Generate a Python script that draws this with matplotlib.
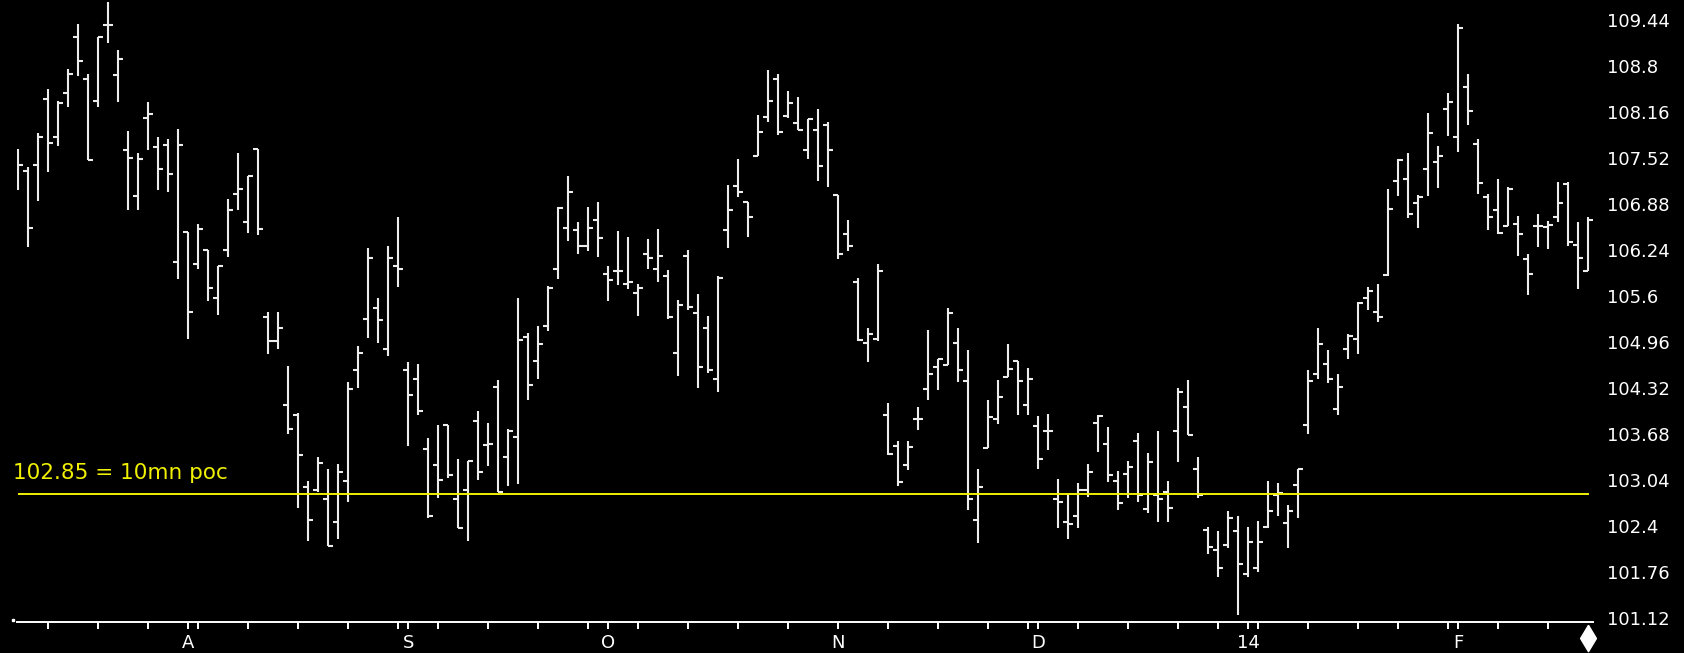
import matplotlib
matplotlib.use('Agg')
import matplotlib.pyplot as plt
import matplotlib.transforms as mtransforms
import numpy as np

# daily OHLC bars (Jul 2013 - Feb 2014)
opens = [
    107.43, 107.33, 107.42, 108.33, 107.81, 108.42, 109.20, 108.61, 108.31, 109.36,
    108.67, 107.63, 106.99, 108.07, 107.67, 107.69, 106.07, 106.49, 106.04, 106.24,
    105.57, 106.24, 107.02, 106.63, 107.64, 105.31, 104.97, 104.09, 103.95, 102.94,
    102.91, 102.78, 102.46, 103.03, 104.57, 105.28, 105.43, 104.87, 106.01, 104.57,
    104.45, 103.47, 103.25, 103.81, 102.78, 102.91, 103.86, 103.53, 104.34, 103.36,
    103.64, 105.03, 104.70, 105.18, 105.98, 106.54, 106.52, 106.29, 106.66, 105.90,
    105.95, 105.76, 105.64, 106.18, 105.98, 105.88, 104.81, 106.15, 105.37, 105.15,
    104.45, 106.52, 107.13, 106.91, 107.54, 108.09, 108.61, 108.10, 108.00, 107.63,
    107.91, 107.97, 107.00, 106.46, 105.79, 104.95, 105.00, 103.95, 103.52, 103.25,
    103.89, 104.31, 104.61, 104.64, 104.95, 104.42, 102.49, 103.49, 103.89, 104.47,
    104.70, 104.09, 103.80, 103.72, 102.78, 102.46, 102.54, 102.91, 103.83, 103.55,
    103.03, 103.13, 103.59, 102.64, 102.83, 102.87, 103.72, 104.06, 103.19, 102.35,
    102.07, 102.14, 102.33, 101.74, 101.82, 102.39, 102.83, 102.45, 102.97, 103.81,
    104.51, 104.65, 104.03, 104.87, 105.00, 105.57, 105.38, 105.89, 107.20, 107.22,
    106.89, 107.36, 107.46, 108.20, 107.81, 108.50, 107.71, 106.97, 106.79, 106.57,
    106.60, 106.11, 106.57, 106.56, 106.69, 107.15, 106.31, 105.95,
]
highs = [
    107.64, 107.39, 107.86, 108.48, 108.31, 108.75, 109.38, 108.68, 109.20, 109.68,
    109.02, 107.89, 107.58, 108.29, 107.81, 107.78, 107.92, 106.49, 106.60, 106.24,
    106.02, 106.94, 107.58, 107.27, 107.64, 105.38, 105.38, 104.63, 103.97, 103.03,
    103.36, 103.20, 103.26, 104.40, 104.90, 106.27, 105.57, 106.30, 106.70, 104.68,
    104.65, 103.62, 103.81, 103.81, 103.34, 103.31, 104.00, 103.84, 104.43, 103.75,
    105.57, 105.09, 105.18, 105.74, 106.84, 107.27, 106.63, 106.84, 106.91, 106.02,
    106.50, 106.42, 105.77, 106.39, 106.53, 105.96, 105.54, 106.24, 105.63, 105.32,
    105.88, 107.14, 107.50, 106.91, 108.11, 108.74, 108.68, 108.45, 108.36, 108.06,
    108.20, 108.01, 107.00, 106.66, 105.85, 105.15, 106.05, 104.12, 103.59, 103.59,
    104.06, 105.13, 104.73, 105.43, 105.15, 104.85, 103.20, 104.15, 104.43, 104.93,
    104.70, 104.60, 103.93, 103.96, 103.06, 102.85, 103.00, 103.26, 103.95, 103.78,
    103.17, 103.31, 103.70, 103.42, 103.72, 103.03, 104.32, 104.43, 103.36, 102.39,
    102.33, 102.61, 102.55, 102.39, 102.47, 103.03, 103.00, 102.70, 103.19, 104.57,
    105.15, 104.85, 104.51, 105.07, 105.52, 105.73, 105.77, 107.08, 107.50, 107.58,
    107.00, 108.14, 107.68, 108.42, 109.38, 108.68, 107.78, 107.02, 107.23, 107.11,
    106.71, 106.18, 106.74, 106.64, 107.18, 107.18, 106.63, 106.69,
]
lows = [
    107.07, 106.28, 106.92, 107.32, 107.68, 108.23, 108.65, 107.49, 108.23, 109.11,
    108.30, 106.79, 106.79, 107.63, 107.07, 107.04, 105.83, 105.00, 105.97, 105.53,
    105.33, 106.14, 106.79, 106.47, 106.45, 104.80, 104.86, 103.68, 102.65, 102.20,
    102.88, 102.13, 102.23, 102.74, 104.32, 105.02, 104.95, 104.77, 105.72, 103.52,
    103.95, 102.52, 102.79, 103.07, 102.38, 102.20, 103.04, 103.24, 102.87, 102.96,
    102.99, 104.16, 104.44, 105.11, 105.83, 106.37, 106.18, 106.22, 106.14, 105.53,
    105.75, 105.69, 105.32, 105.97, 105.80, 105.28, 104.49, 105.41, 104.32, 104.53,
    104.27, 106.27, 106.98, 106.42, 107.54, 108.01, 107.84, 108.07, 107.90, 107.50,
    107.20, 107.11, 106.11, 106.22, 104.97, 104.68, 104.97, 103.39, 102.96, 103.18,
    103.74, 104.16, 104.29, 104.64, 104.40, 102.62, 102.17, 103.49, 103.82, 104.47,
    103.94, 103.94, 103.20, 103.46, 102.37, 102.23, 102.37, 102.81, 103.43, 103.02,
    102.62, 102.79, 102.74, 102.59, 102.46, 102.46, 103.29, 103.67, 102.79, 102.01,
    101.70, 102.10, 101.17, 101.70, 101.76, 102.38, 102.54, 102.10, 102.52, 103.68,
    104.44, 104.39, 103.94, 104.73, 104.79, 105.41, 105.24, 105.88, 106.99, 106.68,
    106.54, 106.99, 107.10, 107.82, 107.60, 107.97, 107.02, 106.52, 106.46, 106.57,
    106.15, 105.61, 106.28, 106.25, 106.63, 106.30, 105.70, 105.95,
]
closes = [
    107.42, 106.54, 107.81, 107.72, 108.28, 108.68, 108.86, 107.49, 109.20, 109.36,
    108.89, 107.52, 107.50, 108.13, 107.36, 107.30, 107.69, 105.38, 106.53, 105.71,
    106.01, 106.79, 107.08, 107.27, 106.53, 104.97, 105.15, 103.75, 103.39, 102.49,
    103.28, 102.13, 103.16, 104.31, 104.81, 106.13, 105.27, 106.13, 105.98, 104.23,
    104.00, 102.54, 103.04, 103.11, 102.38, 103.31, 103.16, 103.55, 102.87, 103.72,
    104.99, 104.36, 104.93, 105.71, 106.82, 107.05, 106.29, 106.54, 106.40, 105.82,
    105.95, 105.79, 105.71, 106.13, 106.15, 105.31, 105.48, 105.45, 104.61, 104.57,
    105.85, 106.79, 107.05, 106.69, 107.88, 108.31, 107.88, 108.28, 107.91, 108.06,
    107.41, 107.63, 106.18, 106.29, 104.99, 105.07, 105.95, 103.40, 103.02, 103.50,
    103.89, 104.51, 104.73, 105.37, 104.57, 102.78, 102.94, 103.92, 104.19, 104.59,
    104.42, 104.44, 103.33, 103.72, 102.74, 102.43, 102.91, 103.16, 103.93, 103.11,
    102.72, 103.22, 102.83, 103.30, 102.78, 102.66, 104.26, 103.67, 102.83, 102.11,
    101.82, 102.52, 101.88, 102.18, 102.18, 102.61, 102.86, 102.61, 103.19, 104.42,
    104.93, 104.45, 104.34, 105.04, 105.50, 105.67, 105.31, 106.81, 107.49, 106.74,
    106.98, 107.86, 107.55, 108.30, 109.32, 108.17, 107.17, 106.69, 106.47, 107.09,
    106.46, 105.90, 106.57, 106.59, 106.89, 106.35, 106.13, 106.66,
]

poc = 102.85
poc_label = '102.85 = 10mn poc'

price_ticks = [109.44, 108.8, 108.16, 107.52, 106.88, 106.24, 105.6,
               104.96, 104.32, 103.68, 103.04, 102.4, 101.76, 101.12]

# weekly ticks (bar index) and month starts
week_ticks = [3, 8, 13, 18, 23, 28, 33, 38, 42, 47, 52, 57, 62, 67, 72, 77,
              87, 92, 97, 101, 106, 111, 116, 120, 124, 129, 134, 138, 143,
              148, 153]
month_pos = [17, 39, 59, 82, 102, 123, 144]
month_labels = ['A', 'S', 'O', 'N', 'D', '14', 'F']

bar_color = '#ececec'
yellow = '#f0f000'

fig = plt.figure(figsize=(16.84, 6.53), dpi=100, facecolor='black')
ax = fig.add_axes([17 / 1684, 1 - 622 / 653, 1576 / 1684, 622 / 653])
ax.set_facecolor('black')

x = np.arange(len(closes))
ax.vlines(x, lows, highs, color=bar_color, lw=1.5)
ax.hlines(opens, x - 0.5, x, color=bar_color, lw=1.5)
ax.hlines(closes, x, x + 0.5, color=bar_color, lw=1.5)

# point of control line
ax.hlines(poc, x[0], x[-1] + 0.1, color=yellow, lw=1.4)
ax.text(-0.55, 103.06, poc_label, color=yellow, fontsize=15.5, va='baseline')

ax.set_xlim(-0.13, 157.47)
ax.set_ylim(101.071, 109.711)

for s in ['top', 'left', 'right']:
    ax.spines[s].set_visible(False)
ax.spines['bottom'].set_color('white')
ax.spines['bottom'].set_linewidth(1.4)

ax.yaxis.tick_right()
ax.set_yticks(price_ticks, [str(v) for v in price_ticks])
ax.tick_params(axis='y', length=0, pad=10, labelcolor='white', labelsize=13)

ticks = sorted(week_ticks + month_pos)
labels = [month_labels[month_pos.index(t)] if t in month_pos else '' for t in ticks]
ax.set_xticks(ticks, labels)
ax.tick_params(axis='x', direction='out', length=5, width=1.4, color='white',
               labelcolor='white', labelsize=13, pad=4)

# marker under the last bar
diamond = [(0, 1), (0.6, 0), (0, -1), (-0.6, 0), (0, 1)]
trans = mtransforms.blended_transform_factory(ax.transData, ax.transAxes)
ax.plot(x[-1], -0.025, marker=diamond, ms=19, color='white', transform=trans, clip_on=False)
ax.plot(-0.0025, 0.003, marker='s', ms=1.5, color='white', transform=ax.transAxes, clip_on=False)

fig.savefig('out.png', dpi=100, facecolor='black')
